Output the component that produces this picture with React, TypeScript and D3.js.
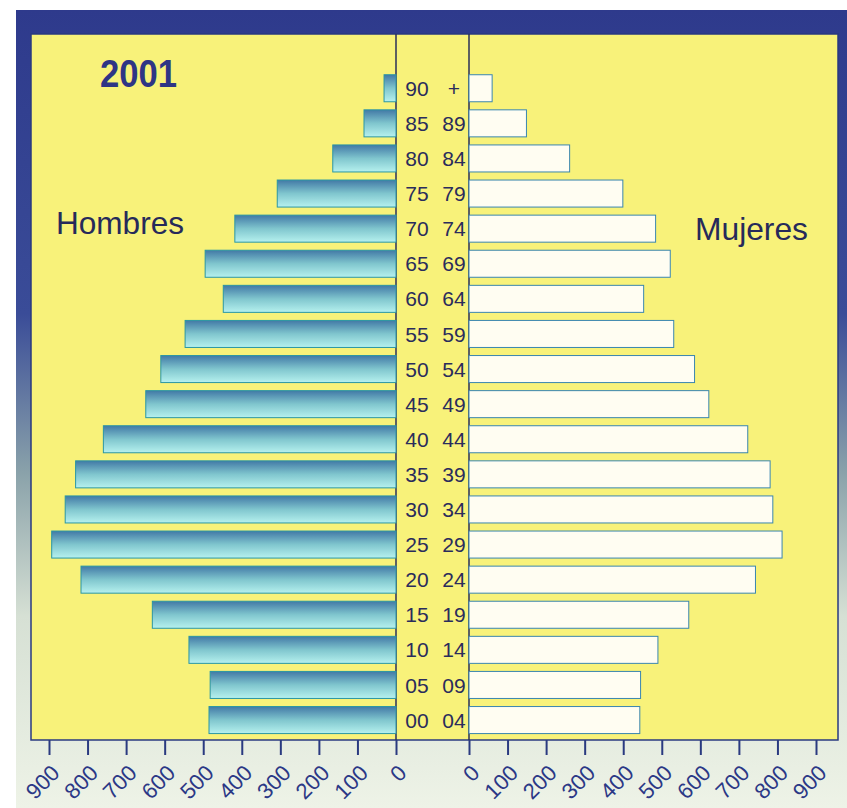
import React, { useEffect, useRef } from 'react'
import * as d3 from 'd3'

// age groups, top row first
const ageFrom = ['90', '85', '80', '75', '70', '65', '60', '55', '50', '45', '40', '35', '30', '25', '20', '15', '10', '05', '00']
const ageTo = ['+', '89', '84', '79', '74', '69', '64', '59', '54', '49', '44', '39', '34', '29', '24', '19', '14', '09', '04']

const hombres = [31, 83, 164, 308, 418, 495, 448, 547, 610, 649, 759, 831, 858, 893, 817, 632, 537, 482, 485]
const mujeres = [60, 149, 261, 399, 484, 522, 453, 531, 585, 622, 723, 781, 788, 812, 743, 570, 490, 445, 443]

const axisTicks = [0, 100, 200, 300, 400, 500, 600, 700, 800, 900]

const title = '2001'
const leftLabel = 'Hombres'
const rightLabel = 'Mujeres'

export default function App() {
  const ref = useRef<SVGSVGElement>(null)

  useEffect(() => {
    document.body.style.margin = '0'
    const width = 847, height = 808
    const svg = d3.select(ref.current)
    svg.selectAll('*').remove()
    svg.attr('width', width).attr('height', height)

    const navy = '#2b3886'
    const font = 'Liberation Sans, Arial, Helvetica, sans-serif'

    const defs = svg.append('defs')
    const frame = defs.append('linearGradient').attr('id', 'frame')
      .attr('x1', 0).attr('y1', 0).attr('x2', 0).attr('y2', 1)
    frame.append('stop').attr('offset', '0').attr('stop-color', '#2e3a8c')
    frame.append('stop').attr('offset', '0.38').attr('stop-color', '#3a4c98')
    frame.append('stop').attr('offset', '0.58').attr('stop-color', '#8aa2aa')
    frame.append('stop').attr('offset', '0.76').attr('stop-color', '#d6e0d4')
    frame.append('stop').attr('offset', '1').attr('stop-color', '#eef3e7')

    const barGrad = defs.append('linearGradient').attr('id', 'bar')
      .attr('x1', 0).attr('y1', 0).attr('x2', 0).attr('y2', 1)
    barGrad.append('stop').attr('offset', '0').attr('stop-color', '#4279a6')
    barGrad.append('stop').attr('offset', '0.5').attr('stop-color', '#80c6ce')
    barGrad.append('stop').attr('offset', '1').attr('stop-color', '#b6f1ee')

    // frame + yellow panel
    svg.append('rect').attr('x', 16).attr('y', 10).attr('width', width - 16).attr('height', height - 10)
      .attr('fill', 'url(#frame)')
    svg.append('rect').attr('x', 31).attr('y', 34).attr('width', 807).attr('height', 706)
      .attr('fill', '#f8f27a').attr('stroke', '#2a3a80').attr('stroke-width', 1.5)

    const y = d3.scaleBand<number>()
      .domain(d3.range(ageFrom.length))
      .range([70.7, 737.6])
      .paddingInner(0.23)
      .paddingOuter(0.115)

    const xLeft = d3.scaleLinear().domain([0, 900]).range([396, 49])
    const xRight = d3.scaleLinear().domain([0, 900]).range([469, 816])

    // center lines
    svg.append('g').selectAll('line').data([xLeft(0), xRight(0)]).enter().append('line')
      .attr('x1', d => d).attr('x2', d => d).attr('y1', 34).attr('y2', 740)
      .attr('stroke', '#2a2f5a').attr('stroke-width', 1.5)

    // men
    svg.append('g').selectAll('rect').data(hombres).enter().append('rect')
      .attr('x', d => xLeft(d))
      .attr('y', (d, i) => y(i)!)
      .attr('width', d => xLeft(0) - xLeft(d))
      .attr('height', y.bandwidth())
      .attr('fill', 'url(#bar)')
      .attr('stroke', '#2a96a4').attr('stroke-width', 1)

    // women
    svg.append('g').selectAll('rect').data(mujeres).enter().append('rect')
      .attr('x', xRight(0))
      .attr('y', (d, i) => y(i)!)
      .attr('width', d => xRight(d) - xRight(0))
      .attr('height', y.bandwidth())
      .attr('fill', '#fffdf2')
      .attr('stroke', '#3a86b0').attr('stroke-width', 1)

    // age labels
    const lab = svg.append('g').attr('font-family', font).attr('font-size', 21).attr('fill', '#2a2c5c')
    lab.selectAll('text.from').data(ageFrom).enter().append('text').attr('class', 'from')
      .attr('x', 417).attr('y', (d, i) => y(i)! + y.bandwidth() / 2).attr('dy', '0.36em')
      .attr('text-anchor', 'middle').text(d => d)
    lab.selectAll('text.to').data(ageTo).enter().append('text').attr('class', 'to')
      .attr('x', 454).attr('y', (d, i) => y(i)! + y.bandwidth() / 2).attr('dy', '0.36em')
      .attr('text-anchor', 'middle').text(d => d)

    // bottom axes
    const styleAxis = (g: any) => {
      g.select('.domain').remove()
      g.selectAll('.tick line').attr('stroke', '#2a3a80').attr('stroke-width', 2)
      g.selectAll('.tick text')
        .attr('x', 0).attr('y', 0).attr('dy', '0.35em')
        .attr('text-anchor', 'end')
        .attr('transform', 'translate(6,29) rotate(-45)')
        .attr('fill', navy).attr('font-size', 22).attr('font-family', font)
    }
    svg.append('g').attr('transform', 'translate(0,740)')
      .call(d3.axisBottom(xLeft).tickValues(axisTicks).tickSize(15).tickFormat(d3.format('d')))
      .call(styleAxis)
    svg.append('g').attr('transform', 'translate(0,740)')
      .call(d3.axisBottom(xRight).tickValues(axisTicks).tickSize(15).tickFormat(d3.format('d')))
      .call(styleAxis)

    // titles
    svg.append('text').attr('x', 100).attr('y', 87).attr('font-family', font).attr('font-weight', 'bold')
      .attr('font-size', 38).attr('fill', '#2e3585').attr('textLength', 77).attr('lengthAdjust', 'spacingAndGlyphs')
      .text(title)
    svg.append('text').attr('x', 56).attr('y', 234).attr('font-family', font)
      .attr('font-size', 32).attr('fill', '#262a5a').attr('textLength', 128).attr('lengthAdjust', 'spacingAndGlyphs')
      .text(leftLabel)
    svg.append('text').attr('x', 695).attr('y', 240).attr('font-family', font)
      .attr('font-size', 32).attr('fill', '#262a5a').attr('textLength', 113).attr('lengthAdjust', 'spacingAndGlyphs')
      .text(rightLabel)
  }, [])

  return <svg ref={ref} style={{ display: 'block' }}></svg>
}
